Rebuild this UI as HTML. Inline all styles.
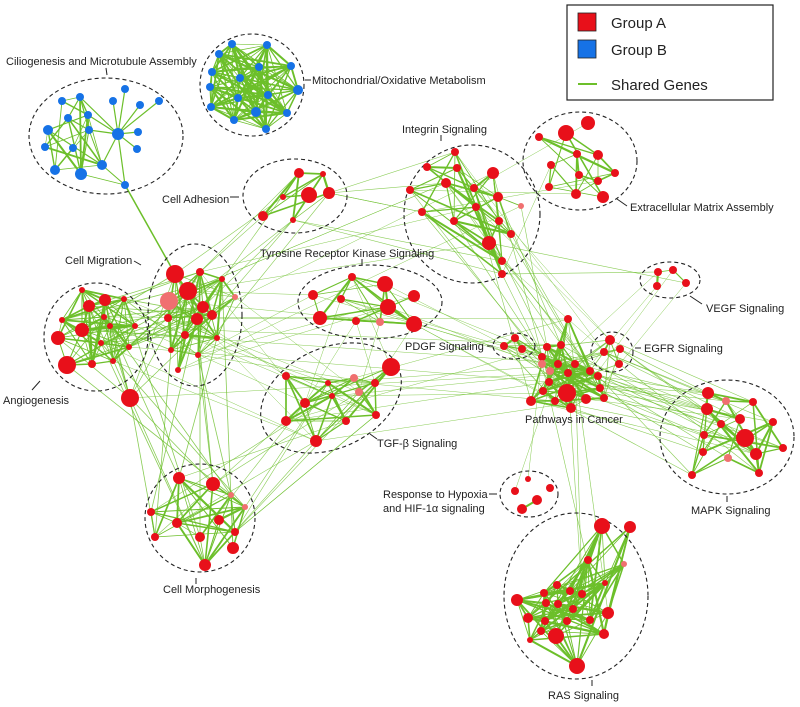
<!DOCTYPE html>
<html><head><meta charset="utf-8"><style>
html,body{margin:0;padding:0;background:#fff;width:800px;height:707px;overflow:hidden}
svg{display:block}
text{font-family:"Liberation Sans",Arial,sans-serif;font-size:11px;fill:#222}
</style></head><body>
<svg id="s" width="800" height="707" viewBox="0 0 800 707" xmlns="http://www.w3.org/2000/svg">
<g id="edges" stroke="#6cbf2a" fill="none"></g>
<g id="ell" fill="none" stroke="#222" stroke-width="1.1" stroke-dasharray="4,3">
<ellipse cx="106" cy="136" rx="77" ry="58"/>
<ellipse cx="252" cy="85" rx="52" ry="51"/>
<ellipse cx="295" cy="196" rx="52" ry="37"/>
<ellipse cx="472" cy="214" rx="68" ry="69"/>
<ellipse cx="580" cy="161" rx="57" ry="49"/>
<ellipse cx="195" cy="315" rx="47" ry="71"/>
<ellipse cx="96" cy="337" rx="52" ry="54"/>
<ellipse cx="370" cy="302" rx="72" ry="37"/>
<ellipse cx="670" cy="280" rx="30" ry="18"/>
<ellipse cx="514" cy="346" rx="21" ry="13"/>
<ellipse cx="612" cy="352" rx="21" ry="20"/>
<ellipse cx="331" cy="398" rx="74" ry="50" transform="rotate(-25 331 398)"/>
<ellipse cx="727" cy="437" rx="67" ry="57"/>
<ellipse cx="529" cy="494" rx="29" ry="23"/>
<ellipse cx="200" cy="518" rx="55" ry="54"/>
<ellipse cx="576" cy="596" rx="72" ry="83"/>
</g>
<g id="nodes"></g>
<g stroke="#222" stroke-width="1">
<line x1="106" y1="68" x2="107" y2="75"/>
<line x1="305" y1="80" x2="311" y2="80"/><line x1="230" y1="197" x2="239" y2="197"/>
<line x1="487" y1="346" x2="493" y2="346"/><line x1="635" y1="348" x2="641" y2="348"/>
<line x1="134" y1="261" x2="141" y2="265"/><line x1="32" y1="390" x2="40" y2="381"/>
<line x1="489" y1="494" x2="497" y2="494"/><line x1="690" y1="296" x2="702" y2="304"/>
<line x1="617" y1="199" x2="627" y2="206"/><line x1="370" y1="434" x2="377" y2="439"/>
<line x1="441" y1="135" x2="441" y2="141"/><line x1="362" y1="259" x2="362" y2="265"/>
<line x1="592" y1="680" x2="592" y2="686"/><line x1="727" y1="496" x2="727" y2="502"/>
<line x1="196" y1="578" x2="196" y2="584"/>
</g>
<g>
<text x="6" y="65">Ciliogenesis and Microtubule Assembly</text>
<text x="312" y="84">Mitochondrial/Oxidative Metabolism</text>
<text x="402" y="133">Integrin Signaling</text>
<text x="162" y="203">Cell Adhesion</text>
<text x="630" y="211">Extracellular Matrix Assembly</text>
<text x="65" y="264">Cell Migration</text>
<text x="260" y="257">Tyrosine Receptor Kinase Signaling</text>
<text x="706" y="312">VEGF Signaling</text>
<text x="405" y="350">PDGF Signaling</text>
<text x="644" y="352">EGFR Signaling</text>
<text x="3" y="404">Angiogenesis</text>
<text x="525" y="423">Pathways in Cancer</text>
<text x="377" y="447">TGF-β Signaling</text>
<text x="383" y="498">Response to Hypoxia</text>
<text x="383" y="512">and HIF-1α signaling</text>
<text x="691" y="514">MAPK Signaling</text>
<text x="163" y="593">Cell Morphogenesis</text>
<text x="548" y="699">RAS Signaling</text>
</g>
<g>
<rect x="567" y="5" width="206" height="95" fill="#fff" stroke="#222" stroke-width="1.2"/>
<rect x="578" y="13" width="18" height="18" fill="#e8101a" stroke="#222" stroke-width="0.8"/>
<rect x="578" y="40" width="18" height="18" fill="#1672e6" stroke="#222" stroke-width="0.8"/>
<line x1="578" y1="84" x2="597" y2="84" stroke="#6cbf2a" stroke-width="2"/>
<text x="611" y="28" style="font-size:15px">Group A</text>
<text x="611" y="55" style="font-size:15px">Group B</text>
<text x="611" y="90" style="font-size:15px">Shared Genes</text>
</g>
</svg>
<script>
var C={
cil:{b:1,p:0,n:[[62,101],[80,97],[68,118],[88,115],[48,130,5],[89,130],[45,147],[73,148],[102,165,5],[55,170,5],[81,174,6],[125,89],[113,101],[140,105],[159,101],[118,134,6],[138,132],[137,149],[125,185]]},
mit:{b:1,p:0.85,n:[[232,44],[267,45],[219,54],[212,72],[259,67],[240,78],[291,66],[210,87],[298,90,5],[268,95],[238,98],[211,107],[256,112,5],[287,113],[234,120],[266,129]]},
adh:{p:0.5,n:[[299,173,5],[323,174,3],[309,195,8],[329,193,6],[283,197,3],[263,216,5],[293,220,3]]},
int:{p:0.35,n:[[455,152],[427,167],[457,168],[493,173,6],[446,183,5],[410,190],[474,188],[498,197,5],[476,207],[422,212],[454,221],[521,206,3,1],[499,221],[511,234],[489,243,7],[502,261],[502,274]]},
ecm:{p:0.35,n:[[539,137],[566,133,8],[588,123,7],[577,154],[598,155,5],[615,173],[551,165],[579,175],[598,181],[549,187],[576,194,5],[603,197,6]]},
mig:{p:0.6,n:[[175,274,9],[200,272,4],[222,279,3],[188,291,9],[169,301,9,1],[235,297,3,1],[203,307,6],[212,315,5],[197,319,6],[168,318,4],[185,335,4],[217,338,3],[171,350,3],[198,355,3],[178,370,3]]},
ang:{p:0.55,n:[[105,300,6],[89,306,6],[62,320,3],[104,317,3],[124,299,3],[82,290,3],[58,338,7],[82,330,7],[110,326,3],[101,343,3],[135,326,3],[129,347,3],[67,365,9],[92,364,4],[113,361,3]]},
solo:{p:0,n:[[130,398,9]]},
trk:{p:0.4,n:[[352,277,4],[385,284,8],[313,295,5],[341,299,4],[414,296,6],[388,307,8],[320,318,7],[356,321,4],[380,322,4,1],[414,324,8]]},
veg:{p:0.6,n:[[658,272],[673,270],[686,283],[657,286]]},
pdg:{p:0.7,n:[[504,346],[515,338],[522,349]]},
egf:{p:0.7,n:[[610,340,5],[604,352],[620,349],[619,364]]},
pic:{p:0.35,n:[[568,319],[547,347],[561,345],[542,357],[542,364,4,1],[558,364],[575,364],[550,371,4,1],[568,373],[590,371],[598,376],[549,382],[600,388],[543,391],[567,393,9],[586,399,5],[604,398],[555,401],[531,401,5],[571,408,5]]},
tgf:{p:0.4,n:[[391,367,9],[286,376,4],[354,378,4,1],[328,383,3],[375,383,4],[332,396,3],[359,392,4,1],[305,403,5],[376,415,4],[286,421,5],[346,421,4],[316,441,6]]},
mapk:{p:0.3,n:[[708,393,6],[726,401,4,1],[753,402],[707,409,6],[740,419,5],[721,424],[773,422],[704,435],[745,438,9],[703,452],[756,454,6],[728,458,4,1],[783,448],[692,475],[759,473]]},
hyp:{p:0,n:[[528,479,3],[515,491],[550,488],[537,500,5],[522,509,5]]},
mor:{p:0.5,n:[[179,478,6],[213,484,7],[231,495,3,1],[245,507,3,1],[151,512],[219,520,5],[177,523,5],[235,532,4],[155,537],[200,537,5],[233,548,6],[205,565,6]]},
ras:{p:0.45,n:[[602,526,8],[630,527,6],[588,560,4],[624,564,3,1],[605,583,3],[557,585,4],[570,591,4],[544,593,4],[517,600,6],[582,594,4],[546,603,4],[558,604,4],[573,609,4],[608,613,6],[528,618,5],[545,621,4],[567,621,4],[590,620,4],[541,631,4],[556,636,8],[604,634,5],[530,640,3],[577,666,8]]}
};
var seed=11;function r(){seed=(seed*16807)%2147483647;return seed/2147483647;}
var E='',N='';
function ln(p,q,w,o){E+='<line x1="'+p[0]+'" y1="'+p[1]+'" x2="'+q[0]+'" y2="'+q[1]+'" stroke-width="'+w+'"'+(o?' opacity="'+o+'"':'')+'/>';}
for(var k in C){var n=C[k].n;for(var i=0;i<n.length;i++)for(var j=i+1;j<n.length;j++){if(r()<C[k].p){ln(n[i],n[j],(0.6+r()*1.6).toFixed(1));}}}
var c=C.cil.n;
for(var i=0;i<11;i++)for(var j=i+1;j<11;j++)if(r()<0.5)ln(c[i],c[j],(0.6+r()*1.5).toFixed(1));
[11,12,13,14,16,17,18,5,1,8,3].forEach(function(i){ln(c[15],c[i],1.2);});
ln(c[8],c[18],1);ln(c[10],c[18],0.8);
var h=C.hyp.n;ln(h[3],h[4],2);
var L=[['mig','ang',25,0.8],['mig','adh',8,0.6],['mig','int',6,0.5],['mig','tgf',8,0.5],['mig','mor',8,0.8],['ang','mor',6,0.8],['adh','int',6,0.6],['int','ecm',4,0.5],['int','pic',14,0.6],['int','veg',2,0.6],['int','egf',4,0.5],['pic','mapk',24,0.6],['pic','egf',10,0.8],['pic','pdg',10,0.8],['pic','ras',4,0.6],['pic','hyp',2,0.5],['tgf','mor',12,0.6],['tgf','pic',8,0.5],['trk','pic',8,0.5],['trk','mig',6,0.5],['veg','pic',4,0.5],['egf','mapk',8,0.6],['ang','pic',4,0.5],['trk','tgf',6,0.5],['ang','tgf',4,0.5],['solo','ang',5,0.8],['solo','mor',3,0.8],['solo','pic',1,0.5],['solo','mig',3,0.7]];
L.forEach(function(l){var a=C[l[0]].n,b=C[l[1]].n;for(var t=0;t<l[2];t++){var p=a[Math.floor(r()*a.length)],q=b[Math.floor(r()*b.length)];ln(p,q,l[3],0.8);}});
ln(c[18],C.mig.n[0],1.5);
for(var k in C){C[k].n.forEach(function(p){var col=C[k].b?'#1672e6':(p[3]?'#f07070':'#e8101a');N+='<circle cx="'+p[0]+'" cy="'+p[1]+'" r="'+(p[2]||4)+'" fill="'+col+'"/>';});}
document.getElementById('edges').innerHTML=E;document.getElementById('nodes').innerHTML=N;
</script>
</body></html>
